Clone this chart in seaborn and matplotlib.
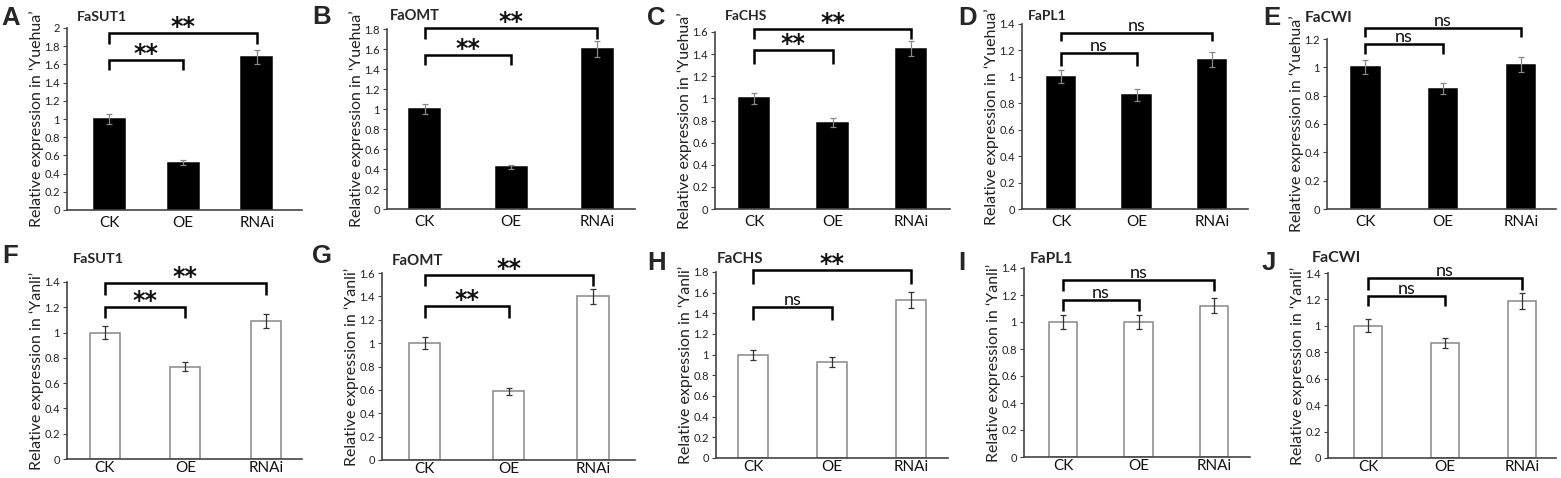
import matplotlib
matplotlib.use('Agg')
import matplotlib.pyplot as plt
import numpy as np
import seaborn as sns

sns.set_style('white')
plt.rcParams['font.family'] = ['Lato', 'DejaVu Sans']

categories = ['CK', 'OE', 'RNAi']
genes = ['FaSUT1', 'FaOMT', 'FaCHS', 'FaPL1', 'FaCWI']

# 'Yuehua' (top row, black bars)
yuehua_mean = [[1.00, 0.52, 1.68],
               [1.00, 0.42, 1.60],
               [1.00, 0.78, 1.45],
               [1.00, 0.86, 1.13],
               [1.00, 0.85, 1.02]]
yuehua_err = [[0.05, 0.03, 0.08],
              [0.05, 0.02, 0.08],
              [0.05, 0.04, 0.07],
              [0.05, 0.045, 0.055],
              [0.05, 0.04, 0.05]]
yuehua_ymax = [2.0, 1.8, 1.6, 1.4, 1.2]
yuehua_sig = [('**', '**'), ('**', '**'), ('**', '**'), ('ns', 'ns'), ('ns', 'ns')]

# 'Yanli' (bottom row, white bars)
yanli_mean = [[1.00, 0.73, 1.09],
              [1.00, 0.59, 1.40],
              [1.00, 0.93, 1.53],
              [1.00, 1.00, 1.12],
              [1.00, 0.87, 1.19]]
yanli_err = [[0.05, 0.035, 0.055],
             [0.05, 0.03, 0.065],
             [0.05, 0.045, 0.08],
             [0.05, 0.05, 0.055],
             [0.05, 0.04, 0.06]]
yanli_ymax = [1.4, 1.6, 1.8, 1.4, 1.4]
yanli_sig = [('**', '**'), ('**', '**'), ('ns', '**'), ('ns', 'ns'), ('ns', 'ns')]

W, H = 1561, 478

# axes box in pixels: left, right, top, bottom ; xlim ; bar width
top_layout = [(67, 302, 28, 210, (-0.57, 2.61), 0.42),
              (387, 635, 29, 209, (-0.44, 2.44), 0.36),
              (715, 950, 32, 209, (-0.50, 2.50), 0.39),
              (1022, 1248, 24, 209, (-0.52, 2.48), 0.38),
              (1327, 1556, 39, 209, (-0.49, 2.45), 0.37)]
bot_layout = [(67, 302, 282, 459, (-0.47, 2.45), 0.37),
              (382, 635, 273, 460, (-0.51, 2.50), 0.37),
              (716, 948, 272, 458, (-0.47, 2.47), 0.38),
              (1024, 1250, 268, 457, (-0.52, 2.48), 0.38),
              (1328, 1556, 273, 458, (-0.52, 2.44), 0.37)]

# bracket heights: low leg, low top, high leg, high top
top_brackets = [(1.54, 1.65, 1.82, 1.95),
                (1.44, 1.54, 1.70, 1.81),
                (1.31, 1.435, 1.54, 1.63),
                (1.085, 1.18, 1.27, 1.33),
                (1.094, 1.165, 1.214, 1.278)]
bot_brackets = [(1.113, 1.204, 1.295, 1.39),
                (1.218, 1.317, 1.487, 1.586),
                (1.34, 1.46, 1.688, 1.817),
                (1.083, 1.164, 1.226, 1.313),
                (1.149, 1.225, 1.275, 1.364)]

# panel letter: text, x, baseline y (pixels)
top_letters = [('A', 1, 25), ('B', 312, 24), ('C', 647, 25), ('D', 958, 25), ('E', 1263, 25)]
bot_letters = [('F', 2, 263), ('G', 312, 263), ('H', 647, 270), ('I', 958, 270), ('J', 1262, 270)]
# gene title: x, baseline y, size
top_titles = [(77, 21, 10.2), (390, 20, 10.5), (725, 20, 10), (1028, 20, 10), (1305, 22, 11.2)]
bot_titles = [(73, 263, 10.4), (392, 265, 10.8), (717, 263, 11), (1030, 263, 11.2), (1312, 262, 11.5)]

fig = plt.figure(figsize=(W / 100, H / 100), dpi=100)


def bracket(ax, x1, x2, leg, top, label):
    ax.plot([x1, x1, x2, x2], [leg, top, top, leg], color='black', lw=1.8,
            clip_on=False, solid_capstyle='butt', solid_joinstyle='miter')
    if label == '**':
        ax.annotate('**', xy=((x1 + x2) / 2, top), xytext=(0, -0.8),
                    textcoords='offset points', ha='center', va='baseline',
                    fontsize=17, fontweight='bold', family='DejaVu Sans',
                    color='#111111', annotation_clip=False)
    else:
        ax.annotate('ns', xy=((x1 + x2) / 2, top), xytext=(0, 1.5),
                    textcoords='offset points', ha='center', va='baseline',
                    fontsize=13, color='#111111', annotation_clip=False)


def draw_panel(layout, means, errs, ymax, sig, brk, facecolor, edgecolor, errcolor,
               cultivar, xpad):
    l, r, t, b, xlim, width = layout
    ax = fig.add_axes([l / W, 1 - b / H, (r - l) / W, (b - t) / H])
    sns.barplot(x=categories, y=means, ax=ax, color=facecolor, saturation=1,
                width=width, edgecolor=edgecolor, linewidth=1.1, errorbar=None)
    ax.errorbar(range(3), means, yerr=errs, fmt='none', ecolor=errcolor,
                elinewidth=0.9, capsize=2, capthick=0.9)
    ax.set_xlim(*xlim)
    ax.set_ylim(0, ymax)
    ticks = np.arange(0, ymax + 0.001, 0.2)
    ax.set_yticks(ticks)
    ax.set_yticklabels([f'{v:g}' for v in ticks])
    sns.despine(ax=ax)
    for s in ['left', 'bottom']:
        ax.spines[s].set_color('#444444')
        ax.spines[s].set_linewidth(1.2)
    ax.tick_params(axis='y', direction='out', length=3, width=0.8, color='#444444',
                   labelsize=8, labelcolor='#222222', pad=2, left=True)
    ax.tick_params(axis='x', length=0, labelsize=11, labelcolor='#111111', pad=xpad)
    ax.set_ylabel(f"Relative expression in \u2018{cultivar}\u2019", fontsize=11.5,
                  color='#222222', labelpad=0)
    bracket(ax, 0, 1, brk[0], brk[1], sig[0])
    bracket(ax, 0, 2, brk[2], brk[3], sig[1])
    return ax


for i in range(5):
    draw_panel(top_layout[i], yuehua_mean[i], yuehua_err[i], yuehua_ymax[i],
               yuehua_sig[i], top_brackets[i], 'black', 'black', '#888888', 'Yuehua', 4)
    draw_panel(bot_layout[i], yanli_mean[i], yanli_err[i], yanli_ymax[i],
               yanli_sig[i], bot_brackets[i], 'white', '#888888', '#333333', 'Yanli', 1.5)

    for letter, lx, ly in (top_letters[i], bot_letters[i]):
        fig.text(lx / W, 1 - ly / H, letter, fontsize=18.5, fontweight='bold',
                 family='Liberation Sans', va='baseline')

    for tx, ty, ts in (top_titles[i], bot_titles[i]):
        fig.text(tx / W, 1 - ty / H, genes[i], fontsize=ts, fontweight='bold',
                 va='baseline')

fig.savefig('out.png', dpi=100)
